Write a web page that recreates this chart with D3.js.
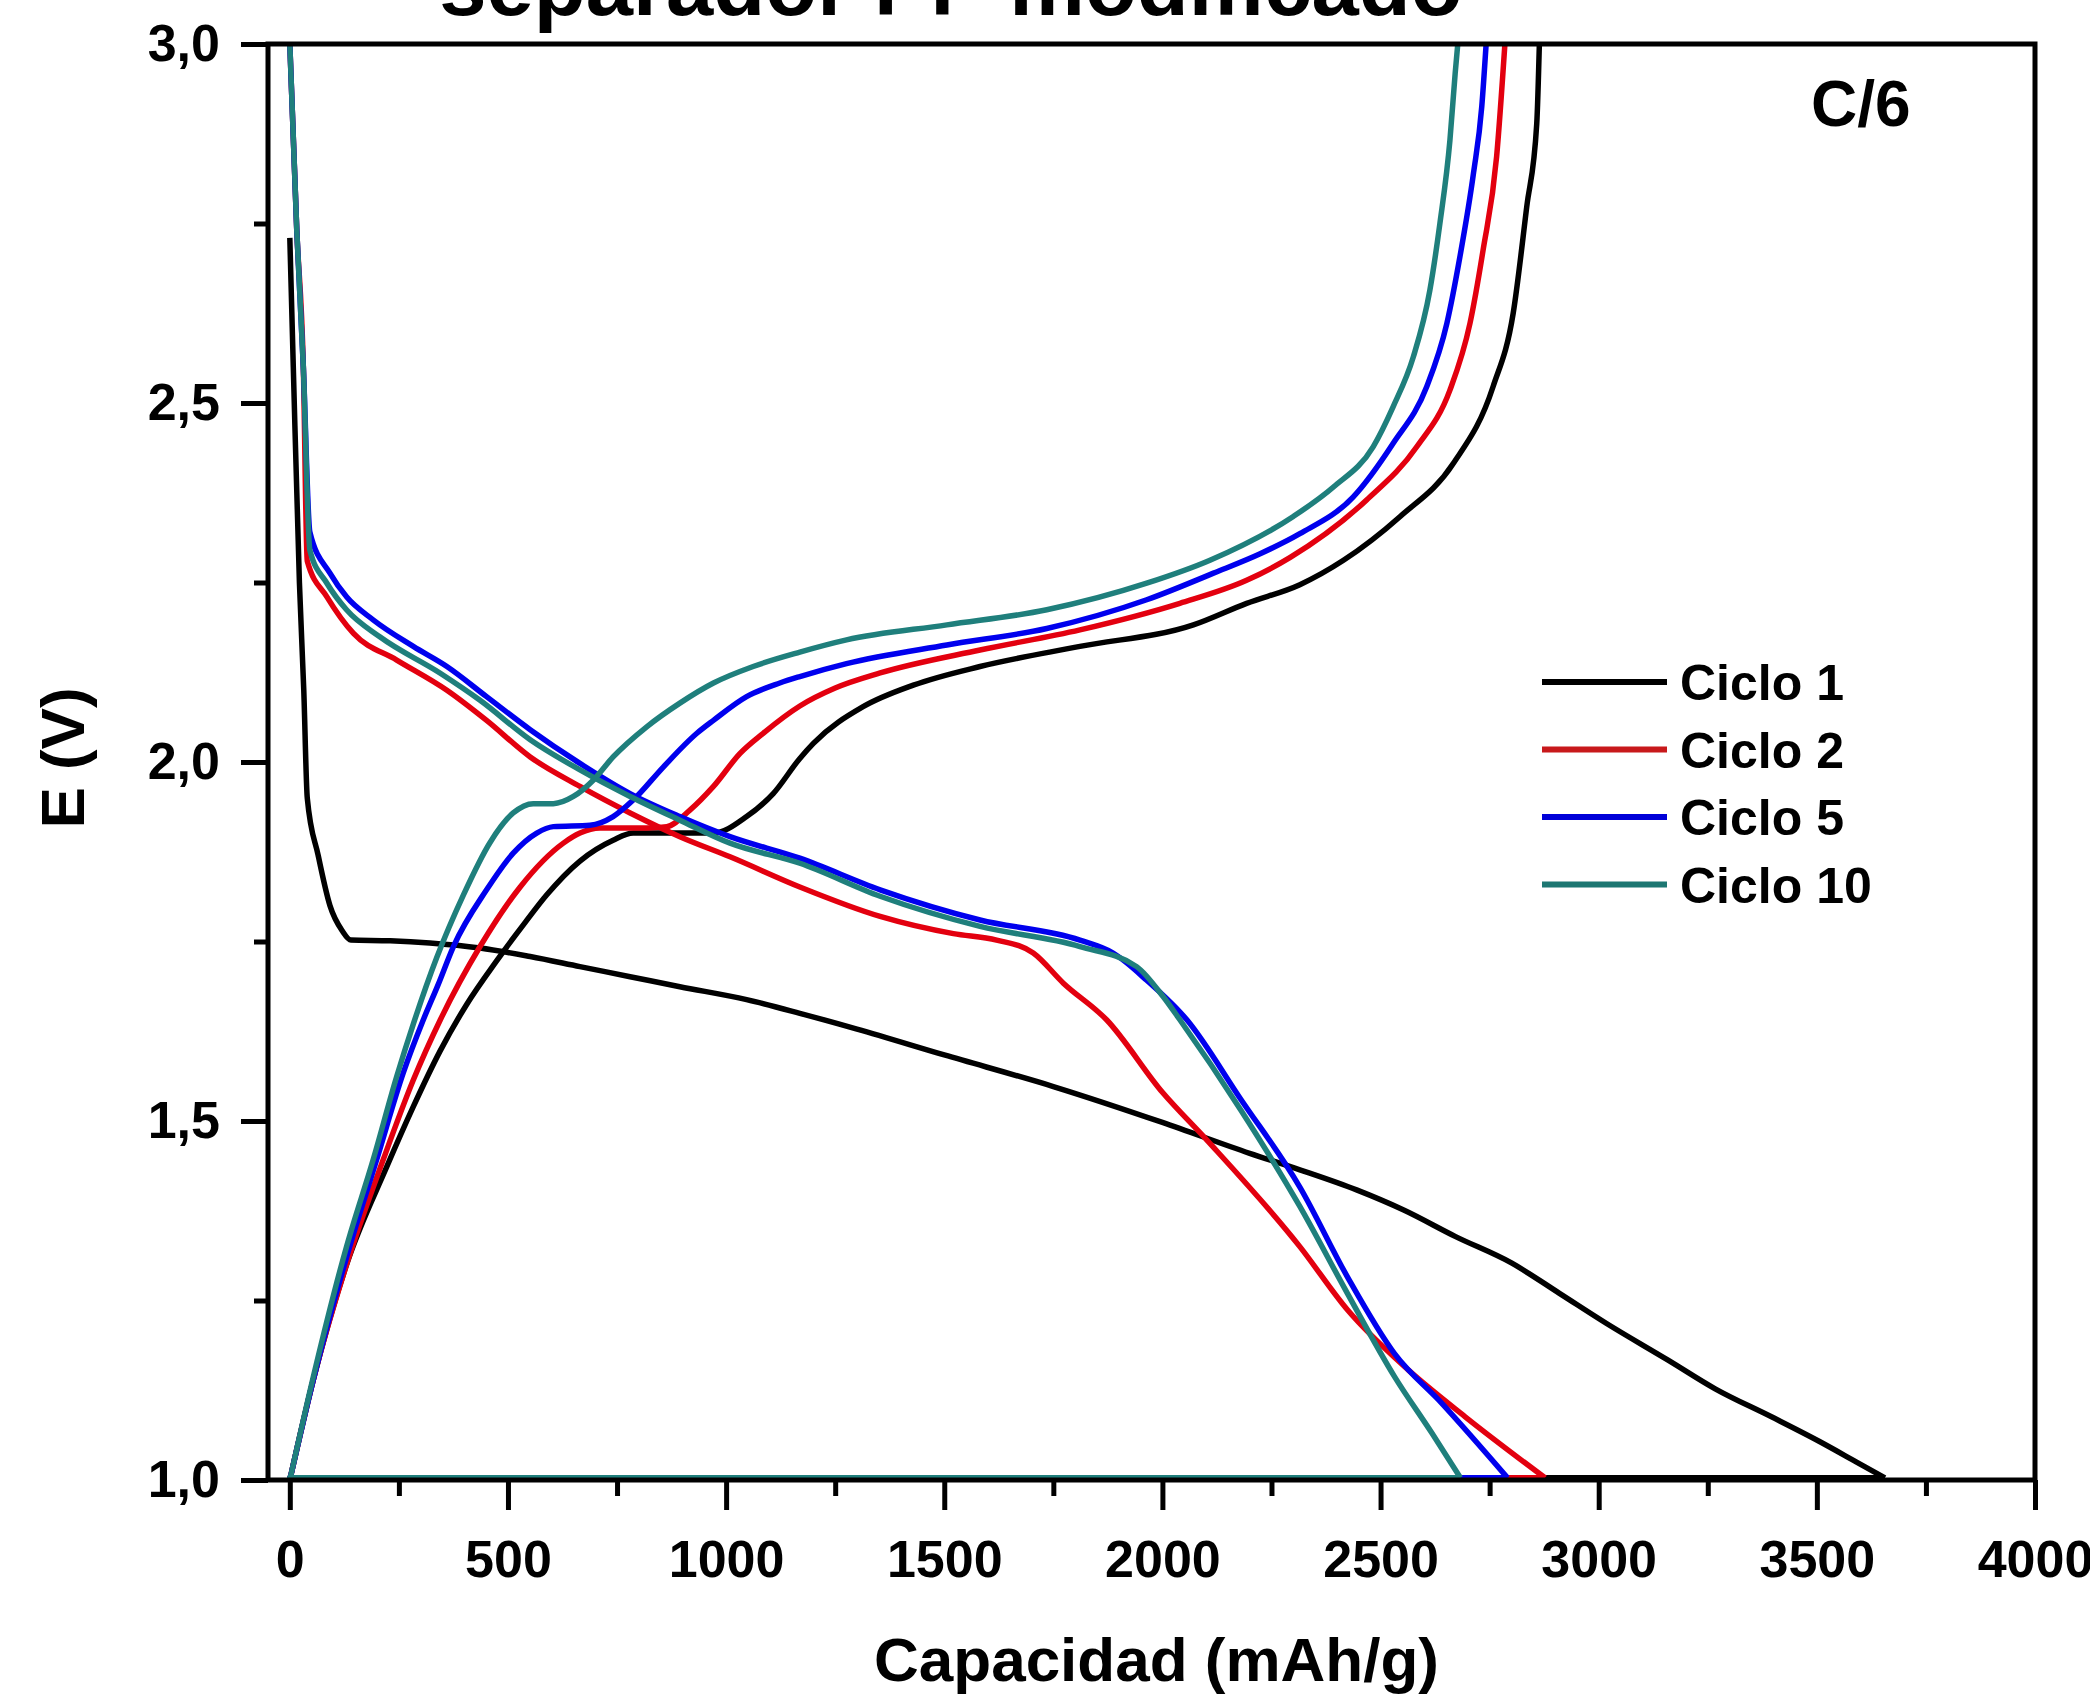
<!DOCTYPE html>
<html><head><meta charset="utf-8">
<script src="https://cdn.jsdelivr.net/npm/d3@7"></script>
<style>
body{margin:0;background:#fff}
svg{display:block}
text{font-family:"Liberation Sans",Arial,sans-serif;font-weight:bold;fill:#000}
</style>
</head><body>
<svg id="chart" width="2090" height="1696"></svg>
<script>
// ---------------- DATA ----------------
const seriesNames = ["Ciclo 1", "Ciclo 2", "Ciclo 5", "Ciclo 10"];
const lineColors = ["#000000", "#e3000f", "#0000ee", "#1f7f7c"];
const legendColors = ["#000000", "#c8191b", "#0000d8", "#1d7772"];
const xTickValues = [0, 500, 1000, 1500, 2000, 2500, 3000, 3500, 4000];
const yTickValues = [1.0, 1.5, 2.0, 2.5, 3.0];
const titleText = "separador PP modificado";
const rateText = "C/6";
const xLabel = "Capacidad (mAh/g)";
const yLabel = "E (V)";

// [capacity mAh/g, E V]
const ciclo1Descarga = [[0,2.73],[8,2.55],[22,2.25],[32,2.1],[40,1.95],[65,1.87],[92,1.80],[120,1.765],[140,1.752],[230,1.751],[321,1.748],[436,1.741],[551,1.729],[665,1.715],[780,1.701],[894,1.687],[1047,1.669],[1169,1.650],[1300,1.628],[1500,1.592],[1750,1.548],[2000,1.498],[2200,1.455],[2315,1.432],[2445,1.404],[2553,1.376],[2672,1.339],[2801,1.302],[2910,1.260],[3018,1.218],[3159,1.167],[3267,1.127],[3396,1.088],[3505,1.054],[3591,1.025],[3656,1.003]];
const ciclo1Carga = [[0,1.0],[54,1.14],[130,1.30],[222,1.436],[283,1.52],[344,1.597],[405,1.662],[474,1.723],[540,1.777],[589,1.815],[665,1.862],[741,1.891],[787,1.901],[971,1.901],[1047,1.924],[1108,1.956],[1169,2.005],[1200,2.026],[1314,2.077],[1429,2.107],[1582,2.133],[1811,2.161],[2071,2.191],[2193,2.221],[2315,2.247],[2415,2.281],[2545,2.342],[2667,2.416],[2758,2.523],[2804,2.625],[2835,2.773],[2858,2.889],[2864,3.0]];

const ciclo2Descarga = [[0,3.0],[16,2.74],[31,2.55],[40,2.28],[85,2.230],[146,2.179],[245,2.142],[360,2.100],[451,2.058],[551,2.007],[665,1.966],[780,1.929],[894,1.896],[1009,1.868],[1169,1.826],[1353,1.785],[1521,1.761],[1620,1.752],[1704,1.734],[1773,1.692],[1872,1.641],[2000,1.54],[2101,1.474],[2315,1.325],[2424,1.237],[2564,1.153],[2694,1.088],[2877,1.003]];
const ciclo2Carga = [[0,1.0],[54,1.14],[130,1.30],[214,1.446],[283,1.557],[345,1.641],[436,1.743],[528,1.826],[627,1.887],[665,1.901],[711,1.908],[818,1.908],[864,1.910],[917,1.933],[971,1.966],[1032,2.012],[1085,2.040],[1169,2.078],[1250,2.103],[1353,2.124],[1582,2.156],[1811,2.184],[2040,2.221],[2193,2.253],[2293,2.285],[2468,2.365],[2583,2.439],[2659,2.518],[2705,2.611],[2735,2.713],[2766,2.843],[2785,3.0]];

const ciclo5Descarga = [[0,3.0],[16,2.74],[31,2.55],[46,2.32],[92,2.263],[130,2.230],[191,2.198],[283,2.161],[360,2.133],[451,2.091],[551,2.045],[665,1.998],[780,1.956],[894,1.924],[1009,1.896],[1169,1.866],[1353,1.822],[1582,1.780],[1811,1.752],[1887,1.734],[1964,1.696],[2056,1.641],[2180,1.53],[2315,1.408],[2424,1.283],[2532,1.176],[2640,1.107],[2791,1.003]];
const ciclo5Carga = [[0,1.0],[54,1.14],[130,1.31],[199,1.446],[260,1.567],[306,1.641],[340,1.69],[375,1.743],[451,1.822],[512,1.873],[566,1.901],[604,1.910],[688,1.912],[741,1.924],[787,1.947],[856,1.993],[933,2.040],[971,2.058],[1047,2.091],[1123,2.110],[1169,2.119],[1276,2.137],[1506,2.163],[1735,2.186],[1964,2.226],[2117,2.263],[2224,2.29],[2315,2.318],[2437,2.369],[2529,2.444],[2606,2.523],[2652,2.611],[2682,2.704],[2713,2.820],[2732,2.913],[2742,3.0]];

const ciclo10Descarga = [[0,3.0],[16,2.74],[31,2.55],[46,2.295],[85,2.249],[130,2.212],[207,2.174],[344,2.124],[436,2.086],[551,2.031],[665,1.989],[780,1.952],[894,1.919],[1009,1.887],[1169,1.859],[1353,1.813],[1582,1.771],[1811,1.743],[1941,1.715],[2002,1.673],[2040,1.641],[2180,1.515],[2315,1.381],[2424,1.260],[2532,1.144],[2618,1.065],[2683,1.003]];
const ciclo10Carga = [[0,1.0],[54,1.144],[130,1.325],[191,1.446],[245,1.562],[283,1.635],[337,1.728],[398,1.815],[459,1.888],[512,1.929],[558,1.942],[604,1.942],[650,1.952],[696,1.975],[741,2.007],[818,2.049],[894,2.082],[971,2.110],[1062,2.133],[1169,2.153],[1276,2.170],[1506,2.191],[1735,2.212],[1964,2.249],[2109,2.281],[2300,2.342],[2392,2.383],[2483,2.439],[2529,2.495],[2575,2.564],[2613,2.657],[2636,2.750],[2659,2.866],[2671,2.959],[2677,3.0]];

const descargas = [ciclo1Descarga, ciclo2Descarga, ciclo5Descarga, ciclo10Descarga];
const cargas = [ciclo1Carga, ciclo2Carga, ciclo5Carga, ciclo10Carga];

// ---------------- CHART ----------------
const svg = d3.select("#chart");
const L = 268, R = 2035, T = 44, B = 1480;
const x = d3.scaleLinear().domain([-50, 4000]).range([L, R]);
const y = d3.scaleLinear().domain([1, 3]).range([B, T]);

const line = d3.line().x(d => x(d[0])).y(d => y(d[1])).curve(d3.curveMonotoneX);
const straight = d3.line().x(d => x(d[0])).y(d => y(d[1]));

const curves = svg.append("g");
seriesNames.forEach((name, i) => {
  const g = curves.append("g").attr("fill", "none").attr("stroke", lineColors[i])
    .attr("stroke-width", 5.5).attr("stroke-linejoin", "round").attr("stroke-linecap", "butt");
  const dis = descargas[i], chg = cargas[i];
  g.append("path").attr("d", line(dis));
  g.append("path").attr("d", straight([dis[dis.length - 1], [0, 1.003], chg[0]]));
  g.append("path").attr("d", line(chg));
});

// minor ticks
const xMinor = xTickValues.slice(0, -1).map(v => v + 250);
const yMinor = yTickValues.slice(0, -1).map(v => v + 0.25);

function styleAxis(g) {
  g.select(".domain").remove();
  g.selectAll(".tick line").attr("stroke", "#000").attr("stroke-width", 5);
  g.selectAll(".tick text").style("font-size", "52px").style("font-family", '"Liberation Sans",Arial,sans-serif').style("font-weight", "bold").attr("fill", "#000");
}

svg.append("g").attr("transform", `translate(0,${B})`)
  .call(d3.axisBottom(x).tickValues(xTickValues).tickSize(30).tickPadding(30).tickFormat(d3.format("d")))
  .call(styleAxis);
svg.append("g").attr("transform", `translate(0,${B})`)
  .call(d3.axisBottom(x).tickValues(xMinor).tickSize(16).tickFormat(""))
  .call(styleAxis);
svg.append("g").attr("transform", `translate(${L},0)`)
  .call(d3.axisLeft(y).tickValues(yTickValues).tickSize(27).tickPadding(21).tickFormat(d => d3.format(".1f")(d).replace(".", ",")))
  .call(styleAxis);
svg.append("g").attr("transform", `translate(${L},0)`)
  .call(d3.axisLeft(y).tickValues(yMinor).tickSize(14).tickFormat(""))
  .call(styleAxis);

// frame
svg.append("rect").attr("x", L).attr("y", T).attr("width", R - L).attr("height", B - T)
  .attr("fill", "none").attr("stroke", "#000").attr("stroke-width", 5);

// axis titles
svg.append("text").attr("x", (L + R) / 2 + 5).attr("y", 1681).attr("text-anchor", "middle")
  .style("font-size", "62px").text(xLabel);
svg.append("text").attr("transform", "translate(84,758) rotate(-90)").attr("text-anchor", "middle")
  .style("font-size", "62px").text(yLabel);

// title (cut at top, as in the reference)
svg.append("text").attr("x", 951).attr("y", 15).attr("text-anchor", "middle")
  .style("font-size", "85px").text(titleText);

// rate annotation
svg.append("text").attr("x", 1811).attr("y", 126).style("font-size", "64px").text(rateText);

// legend
const legend = svg.append("g");
const legY0 = 682, legDy = 67.5;
seriesNames.forEach((name, i) => {
  const ly = legY0 + i * legDy;
  legend.append("line").attr("x1", 1542).attr("x2", 1667).attr("y1", ly).attr("y2", ly)
    .attr("stroke", legendColors[i]).attr("stroke-width", 6);
  legend.append("text").attr("x", 1680).attr("y", ly + 18).style("font-size", "50px").text(name);
});
</script>
</body></html>
